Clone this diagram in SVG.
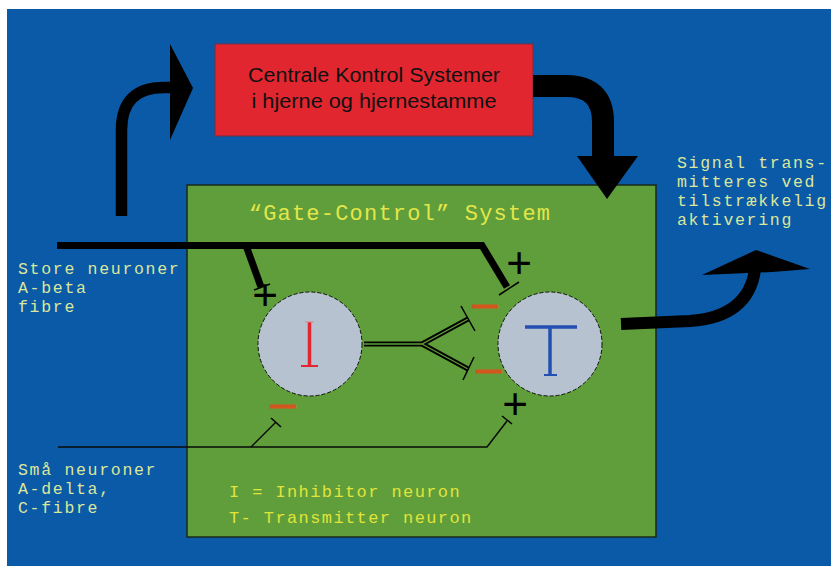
<svg xmlns="http://www.w3.org/2000/svg" width="831" height="566" viewBox="0 0 831 566">
  <style>
    .mono { font-family: "Liberation Mono", "DejaVu Sans Mono", monospace; }
    .sans { font-family: "Liberation Sans", Arial, sans-serif; }
    .lbl { fill: #dbe79a; font-size: 16.5px; letter-spacing: 1.7px; }
    .leg { fill: #e1e43a; font-size: 17px; letter-spacing: 1.4px; }
    .neuron { fill: #b6c2cf; stroke: #111; stroke-width: 1; stroke-dasharray: 4 2; }
    .thick { fill: none; stroke: #000; stroke-width: 7; stroke-linejoin: miter; }
    .thin { fill: none; stroke: #0a0a0a; stroke-width: 1.5; }
    .tick { stroke: #000; stroke-width: 1.5; }
    .big { fill: none; stroke: #000; }
    .plus { fill: #000; font-size: 44px; text-anchor: middle; }
    .minus { fill: #d3561f; stroke: #d3561f; stroke-width: 0.9; font-size: 45px; text-anchor: middle; }
  </style>
  <rect x="0" y="0" width="831" height="566" fill="#ffffff"/>
  <rect x="7" y="9" width="824" height="557" fill="#0a5aa8"/>

  <g id="central-control">
    <rect x="215" y="44" width="318" height="92" fill="#e2262f" stroke="#7a2a40" stroke-width="1"/>
    <text class="sans" x="374" y="82" font-size="20" fill="#111" text-anchor="middle" textLength="252" lengthAdjust="spacingAndGlyphs">Centrale Kontrol Systemer</text>
    <text class="sans" x="374" y="108" font-size="20" fill="#111" text-anchor="middle" textLength="245" lengthAdjust="spacingAndGlyphs">i hjerne og hjernestamme</text>
  </g>

  <g id="gate-control">
    <rect x="187" y="185" width="469" height="352" fill="#5f9e3a" stroke="#1a2a1a" stroke-width="1.5"/>
    <text class="mono" x="400" y="220" font-size="22" letter-spacing="1.2" fill="#e3e64a" text-anchor="middle">“Gate-Control” System</text>
  </g>

  <g id="neuron-I">
    <circle class="neuron" cx="310" cy="344" r="52"/>
    <line x1="309.5" y1="322" x2="309.5" y2="366" stroke="#e2262f" stroke-width="3.5"/>
    <line x1="301" y1="366" x2="318" y2="366" stroke="#e2262f" stroke-width="2"/>
    <line x1="305" y1="322" x2="314" y2="322" stroke="#e08080" stroke-width="1"/>
  </g>

  <g id="neuron-T">
    <circle class="neuron" cx="550" cy="344" r="52"/>
    <line x1="525" y1="327" x2="577" y2="327" stroke="#2350b0" stroke-width="3.5"/>
    <line x1="550" y1="327" x2="550" y2="375" stroke="#2350b0" stroke-width="3.5"/>
    <line x1="544" y1="375" x2="557" y2="375" stroke="#2350b0" stroke-width="2"/>
  </g>

  <g id="label-large">
    <text class="mono lbl" x="18" y="274">Store neuroner</text>
    <text class="mono lbl" x="18" y="293">A-beta</text>
    <text class="mono lbl" x="18" y="312">fibre</text>
  </g>

  <g id="label-small">
    <text class="mono lbl" x="18" y="475">Små neuroner</text>
    <text class="mono lbl" x="18" y="494">A-delta,</text>
    <text class="mono lbl" x="18" y="513">C-fibre</text>
  </g>

  <g id="label-output">
    <text class="mono lbl" x="677" y="168">Signal trans-</text>
    <text class="mono lbl" x="677" y="187">mitteres ved</text>
    <text class="mono lbl" x="677" y="206">tilstrækkelig</text>
    <text class="mono lbl" x="677" y="225">aktivering</text>
  </g>

  <g id="legend">
    <text class="mono leg" x="229" y="497">I = Inhibitor neuron</text>
    <text class="mono leg" x="229" y="523">T- Transmitter neuron</text>
  </g>

  <g id="connectors">
    <!-- up arrow to central control -->
    <path class="big" stroke-width="11.5" d="M121.5,216 L121.5,130 Q121.5,87.5 164,87.5 L174,87.5"/>
    <polygon points="170,44 193,88 170,140" fill="#000"/>
    <!-- arrow from central control down to gate -->
    <path class="big" stroke-width="22" d="M533,86 L566,86 Q603,86 603,122 L603,160"/>
    <polygon points="577,156 638,156 607,199" fill="#000"/>
    <!-- output arrow -->
    <path class="big" stroke-width="12" d="M621,324 L690,321 Q748,317 755,270"/>
    <polygon points="702,275 756,250 810,269 772,272" fill="#000"/>

    <!-- large fibres -->
    <polyline class="thick" points="57,245.5 482,245.5 507,287"/>
    <line class="thick" x1="246" y1="245.5" x2="261" y2="287"/>
    <line class="tick" x1="254" y1="290" x2="270" y2="284"/>
    <line class="tick" x1="499" y1="295" x2="519" y2="282"/>

    <!-- small fibres -->
    <polyline class="thin" points="58,447 487,447 507,421"/>
    <line class="thin" x1="251" y1="447" x2="276" y2="422"/>
    <line class="tick" x1="271" y1="418" x2="281" y2="427"/>
    <line class="tick" x1="502" y1="416" x2="512" y2="424"/>

    <!-- inhibitory connection I -> T -->
    <g>
      <polyline points="364,344 422,344 468,319" fill="none" stroke="#000" stroke-width="5"/>
      <polyline points="422,344 468,369" fill="none" stroke="#000" stroke-width="5"/>
      <polyline points="364,344 422,344 468,319" fill="none" stroke="#5f9e3a" stroke-width="1.3"/>
      <polyline points="422,344 468,369" fill="none" stroke="#5f9e3a" stroke-width="1.3"/>
      <line class="tick" x1="461" y1="306" x2="475" y2="331"/>
      <line class="tick" x1="474" y1="357" x2="463" y2="380"/>
    </g>
  </g>

  <g id="signs">
    <text class="sans plus" x="519" y="278">+</text>
    <text class="sans plus" x="515" y="419" font-size="40">+</text>
    <text class="sans plus" x="265" y="310" font-size="24">+</text>
    <text class="sans minus" x="485" y="318">–</text>
    <text class="sans minus" x="489" y="383">–</text>
    <text class="sans minus" x="283" y="418">–</text>
  </g>
</svg>
